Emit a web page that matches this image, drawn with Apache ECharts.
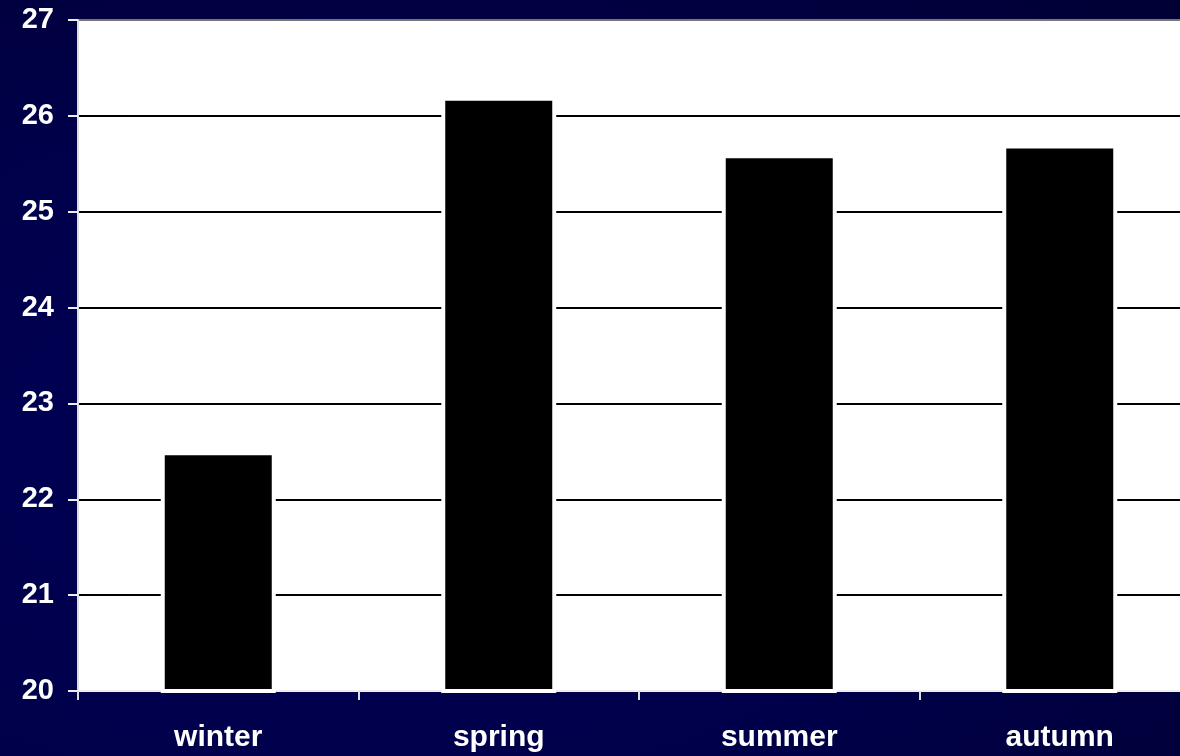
<!DOCTYPE html>
<html>
<head>
<meta charset="utf-8">
<script src="https://cdn.jsdelivr.net/npm/echarts@6/dist/echarts.min.js"></script>
<style>
html,body{margin:0;padding:0;overflow:hidden;}
body{width:1180px;height:756px;background:radial-gradient(ellipse at 30% 60%, #000058 0%, #00004a 55%, #000035 100%);}
#c{width:1200px;height:756px;}
</style>
</head>
<body>
<div id="c"></div>
<script>
const categories = ['winter', 'spring', 'summer', 'autumn'];
const values = [22.5, 26.2, 25.6, 25.7];
const yTicks = [20, 21, 22, 23, 24, 25, 26, 27];

const chart = echarts.init(document.getElementById('c'));
chart.setOption({
  animation: false,
  backgroundColor: 'transparent',
  grid: {left: 78, top: 20, right: 0, bottom: 65, show: true, backgroundColor: '#fff', borderWidth: 0},
  xAxis: {
    type: 'category', data: categories,
    axisLine: {show: true, lineStyle: {color: '#eee', width: 2}},
    axisTick: {show: true, length: 9, lineStyle: {color: '#ddd', width: 2}},
    axisLabel: {margin: 32, color: '#fff', fontFamily: '"Liberation Sans", Arial, sans-serif', fontWeight: 'bold', fontSize: 30},
    splitLine: {show: false}
  },
  yAxis: {
    type: 'value', min: yTicks[0], max: yTicks[yTicks.length - 1], interval: 1,
    axisLine: {show: true, lineStyle: {color: '#ddd', width: 2}},
    axisTick: {show: true, length: 10, lineStyle: {color: '#eee', width: 2}},
    axisLabel: {margin: 24, color: '#fff', fontFamily: '"Liberation Sans", Arial, sans-serif', fontWeight: 'bold', fontSize: 29},
    splitLine: {show: true, lineStyle: {color: ['#000', '#000', '#000', '#000', '#000', '#000', '#000', '#777'], width: 2}}
  },
  series: [{
    type: 'bar', data: values, barWidth: 115,
    itemStyle: {color: '#000', borderColor: '#fff', borderWidth: 4}
  }]
});
</script>
</body>
</html>
